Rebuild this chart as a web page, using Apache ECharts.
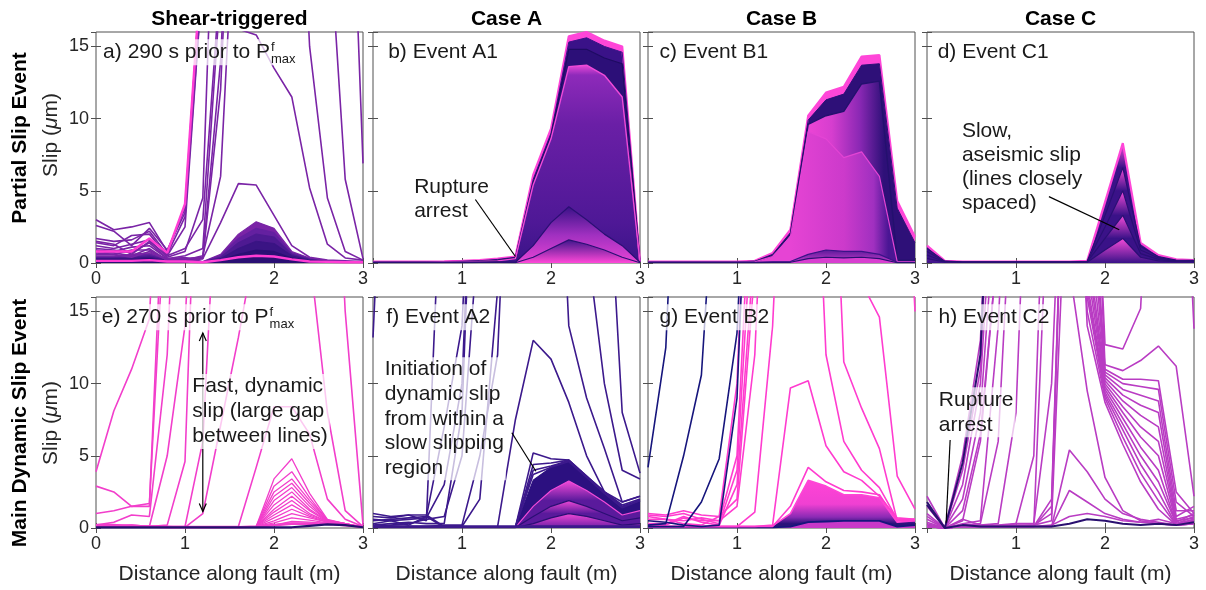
<!DOCTYPE html>
<html><head><meta charset="utf-8">
<script src="https://cdn.jsdelivr.net/npm/echarts@6/dist/echarts.min.js"></script>
<style>html,body{margin:0;padding:0;background:#fff}#c{width:1206px;height:590px}</style>
</head><body><div id="c"></div>
<script>
// ---------------- DATA ----------------
const xs = [0,0.2,0.4,0.6,0.8,1.0,1.2,1.4,1.6,1.8,2.0,2.2,2.4,2.6,2.8,3.0];
const xTicks = [0,1,2,3];
const yTicks = [0,5,10,15];
const colTitles = ['Shear-triggered','Case A','Case B','Case C'];
const rowTitles = ['Partial Slip Event','Main Dynamic Slip Event'];
const panelLabels = ['a) 290 s prior to P','b) Event A1','c) Event B1','d) Event C1','e) 270 s prior to P','f) Event A2','g) Event B2','h) Event C2'];

// a) shear-triggered partial slip
const aHump = [
 [0.5,0.5,0.6,0.7,0.3,0.4,0.1,0.6,2.0,2.85,2.4,0.8,0.35,0.15,0.1,0.1],
 [0.4,0.4,0.5,0.6,0.25,0.3,0.08,0.5,1.7,2.4,2.1,0.7,0.3,0.12,0.1,0.1],
 [0.35,0.35,0.4,0.5,0.2,0.25,0.07,0.4,1.4,2.0,1.8,0.6,0.25,0.1,0.08,0.08],
 [0.3,0.3,0.3,0.4,0.15,0.2,0.06,0.3,1.0,1.5,1.35,0.5,0.2,0.08,0.06,0.06],
 [0.2,0.2,0.2,0.3,0.1,0.15,0.05,0.2,0.6,0.9,0.8,0.35,0.15,0.06,0.05,0.05]
];
const aLines = [
 [3.0,2.3,2.5,2.8,0.8,3.8,22,40,40,40,40,40,40,40,40,6.9],
 [2.6,2.2,1.2,2.4,0.9,3.5,22,40,40,40,40,40,40,25,5.8,0.3],
 [1.7,1.5,1.6,2.2,0.6,3.2,20,40,40,40,40,40,15,4.5,0.8,0.2],
 [1.4,1.2,1.9,2.0,0.5,1.0,3.0,20,16.2,15.8,13.5,11.5,5.2,1.3,0.35,0.2],
 [1.2,1.0,1.3,1.6,0.4,0.8,4.5,40,40,40,40,40,40,40,40,40],
 [1.0,0.9,0.7,1.4,0.3,0.5,1.0,19,40,40,40,40,40,40,40,40],
 [0.9,0.8,1.1,1.2,0.3,0.3,0.4,14,40,40,40,40,40,40,40,40],
 [0.8,0.7,0.5,1.0,0.2,0.3,0.3,12,40,40,40,40,40,40,40,40],
 [0.7,0.6,0.9,0.9,0.2,0.2,0.5,6,30,40,40,40,40,40,40,40],
 [0.6,0.6,0.4,0.8,0.2,0.1,0.3,2.8,5.5,5.4,3.3,1.2,0.4,0.2,0.15,0.1],
 [1.5,1.3,0.6,1.5,0.5,2.5,20,40,40,40,40,40,40,40,40,40]
];
const aPinkHigh = [0.8,0.8,0.8,1.7,0.7,4.1,22,40,40,40,40,40,40,40,40,40];
const aPinkLow  = [0.15,0.15,0.15,0.2,0.1,0.1,0.05,0.2,0.4,0.5,0.45,0.25,0.1,0.08,0.05,0.05];

// b) Event A1
const bBands = [
 [0.1,0.1,0.1,0.1,0.12,0.15,0.2,0.3,0.45,6.1,9.3,15.7,16.0,15.4,15.0,0.1],
 [0.08,0.08,0.08,0.08,0.1,0.12,0.16,0.25,0.4,5.8,9.0,15.3,15.6,15.0,14.6,0.1],
 [0.07,0.07,0.07,0.07,0.08,0.1,0.13,0.2,0.35,5.6,8.8,14.8,14.8,14.2,13.8,0.1],
 [0.06,0.06,0.06,0.06,0.07,0.08,0.1,0.15,0.3,5.4,8.6,13.6,13.7,13.0,11.5,0.1],
 [0.04,0.04,0.04,0.04,0.05,0.06,0.07,0.08,0.05,1.2,2.8,3.9,3.0,2.0,1.2,0.05],
 [0.02,0.02,0.02,0.02,0.03,0.03,0.04,0.05,0.02,0.4,1.0,1.6,1.3,0.9,0.4,0.02]
];
// c) Event B1
const cBands = [
 [0.1,0.1,0.1,0.1,0.1,0.1,0.15,0.7,2.3,10.2,11.8,12.2,14.3,14.4,4.3,1.8],
 [0.08,0.08,0.08,0.08,0.08,0.08,0.12,0.6,2.1,9.9,11.3,11.7,13.7,13.8,3.8,1.4],
 [0.07,0.07,0.07,0.07,0.07,0.07,0.1,0.5,2.0,9.6,10.2,10.5,12.4,12.6,0.2,0.2],
 [0.06,0.06,0.06,0.06,0.06,0.06,0.08,0.45,1.8,9.1,8.6,7.3,7.7,6.0,0.1,0.1],
 [0.04,0.04,0.04,0.04,0.04,0.04,0.05,0.08,0.1,0.6,0.9,0.8,0.8,0.6,0.05,0.05],
 [0.02,0.02,0.02,0.02,0.02,0.02,0.03,0.04,0.05,0.3,0.4,0.35,0.4,0.3,0.02,0.02]
];
// d) Event C1
const dBands = [
 [1.2,0.15,0.1,0.1,0.1,0.1,0.1,0.1,0.1,0.15,4.2,8.3,1.4,0.55,0.25,0.2],
 [1.0,0.13,0.08,0.08,0.08,0.08,0.08,0.08,0.08,0.12,3.3,6.6,1.15,0.45,0.2,0.18],
 [0.8,0.11,0.07,0.07,0.07,0.07,0.07,0.07,0.07,0.1,2.5,5.0,0.9,0.35,0.16,0.15],
 [0.55,0.09,0.06,0.06,0.06,0.06,0.06,0.06,0.06,0.08,1.7,3.3,0.65,0.25,0.12,0.12],
 [0.3,0.07,0.05,0.05,0.05,0.05,0.05,0.05,0.05,0.06,0.9,1.7,0.4,0.15,0.1,0.1]
];

// e) 270 s prior
const eLines = [
 [3.9,8.1,11.0,14.5,40,40,40,40,40,40,40,40,40,40,40,40],
 [2.9,2.5,1.5,1.5,30,40,40,40,40,40,40,40,40,40,40,40],
 [1.0,1.2,1.5,1.7,25,40,40,40,40,40,40,40,40,40,40,40],
 [0.2,0.4,0.9,0.8,12,40,40,40,40,40,40,40,40,40,40,40],
 [0.1,0.1,0.2,0.1,5,14,40,40,40,40,40,40,40,40,15,0.2],
 [0.1,0.1,0.1,0.1,0.2,4.6,40,40,40,40,40,40,19,8,1.2,0.1],
 [0.1,0.1,0.1,0.1,0.1,0.05,1.0,7.1,13.2,20,40,40,40,40,40,40],
 [0.1,0.1,0.1,0.1,0.1,0.1,6,30,40,40,40,40,40,40,40,40],
 [0.2,0.2,0.2,0.1,0.1,0.1,0.1,0.1,0.1,4.2,8.4,8.4,6.5,2.0,0.6,0.1]
];
const eFan = [
 [0.05,0.05,0.05,0.05,0.05,0.05,0.05,0.05,0.05,0.1,3.4,4.8,2.4,0.6,0.3,0.05],
 [0.05,0.05,0.05,0.05,0.05,0.05,0.05,0.05,0.05,0.1,2.9,3.9,2.1,0.55,0.3,0.05],
 [0.05,0.05,0.05,0.05,0.05,0.05,0.05,0.05,0.05,0.1,2.5,3.4,1.9,0.55,0.3,0.05],
 [0.05,0.05,0.05,0.05,0.05,0.05,0.05,0.05,0.05,0.1,2.2,3.1,1.7,0.5,0.3,0.05],
 [0.05,0.05,0.05,0.05,0.05,0.05,0.05,0.05,0.05,0.1,1.9,2.8,1.5,0.5,0.3,0.05],
 [0.05,0.05,0.05,0.05,0.05,0.05,0.05,0.05,0.05,0.1,1.6,2.5,1.3,0.5,0.3,0.05],
 [0.05,0.05,0.05,0.05,0.05,0.05,0.05,0.05,0.05,0.1,1.3,2.2,1.2,0.45,0.3,0.05],
 [0.05,0.05,0.05,0.05,0.05,0.05,0.05,0.05,0.05,0.1,1.1,1.9,1.0,0.45,0.25,0.05],
 [0.05,0.05,0.05,0.05,0.05,0.05,0.05,0.05,0.05,0.1,0.9,1.6,0.9,0.45,0.25,0.05],
 [0.05,0.05,0.05,0.05,0.05,0.05,0.05,0.05,0.05,0.1,0.7,1.3,0.8,0.4,0.25,0.05],
 [0.05,0.05,0.05,0.05,0.05,0.05,0.05,0.05,0.05,0.1,0.5,1.0,0.7,0.4,0.2,0.05],
 [0.05,0.05,0.05,0.05,0.05,0.05,0.05,0.05,0.05,0.1,0.35,0.7,0.55,0.35,0.2,0.05],
 [0.05,0.05,0.05,0.05,0.05,0.05,0.05,0.05,0.05,0.1,0.2,0.45,0.4,0.3,0.2,0.05]
];
const eBase = [0.2,0.2,0.1,0.1,0.05,0.05,0.05,0.05,0.05,0.1,0.2,0.3,0.3,0.3,0.2,0.1];
const eDark = [0.05,0.05,0.05,0.05,0.05,0.05,0.05,0.05,0.05,0.05,0.05,0.05,0.15,0.25,0.2,0.05];

// f) Event A2
const fBands = [
 [0.05,0.05,0.05,0.05,0.05,0.05,0.05,0.05,0.05,3.3,4.2,4.7,3.5,2.4,1.4,1.9],
 [0.04,0.04,0.04,0.04,0.04,0.04,0.04,0.04,0.04,1.5,2.6,3.25,2.6,1.8,0.9,1.2],
 [0.03,0.03,0.03,0.03,0.03,0.03,0.03,0.03,0.03,0.8,1.5,1.9,1.5,1.0,0.5,0.7],
 [0.02,0.02,0.02,0.02,0.02,0.02,0.02,0.02,0.02,0.3,0.7,1.0,0.8,0.5,0.2,0.3]
];
const fLines = [
 [13.2,40,40,40,40,40,40,40,40,40,40,40,40,40,40,40],
 [1.0,0.8,0.9,0.5,30,40,40,40,40,40,40,14,9,5.5,1.8,2.2],
 [0.5,0.6,0.7,0.8,7,14,40,40,40,40,40,40,20,10,4.0,3.4],
 [0.2,0.3,0.4,0.3,0.3,8,40,40,40,40,40,40,40,30,8,3.8],
 [0.1,0.1,0.1,0.1,0.2,0.2,5,12,40,40,40,40,40,40,40,40],
 [0.05,0.05,0.05,0.05,0.05,0.05,0.05,0.1,7.5,13.0,11.7,8.7,5.0,2.5,1.8,2.2],
 [0.05,0.05,0.05,0.05,0.05,0.05,0.05,0.05,0.05,5.2,4.8,4.7,3.6,2.5,1.6,2.0],
 [0.8,0.7,0.9,0.9,0.1,0.1,0.05,0.05,0.05,0.05,0.05,0.05,0.05,0.05,0.05,0.05],
 [0.3,0.5,0.2,0.8,0.05,0.05,0.05,0.05,0.05,0.05,0.05,0.05,0.05,0.05,0.05,0.05],
 [0.6,0.5,0.6,0.7,3,10,40,40,40,40,40,40,40,40,40,40],
 [0.1,0.2,0.3,0.6,0.8,5,22,40,40,40,40,40,40,40,40,40],
 [0.1,0.1,0.1,0.1,0.1,0.1,2,16.5,40,40,40,40,40,40,40,40],
 [0.05,0.05,0.05,0.05,0.05,0.05,0.05,0.05,0.05,4.4,4.5,4.7,3.6,2.5,1.5,1.9],
 [0.05,0.05,0.05,0.05,0.05,0.05,0.05,0.05,0.05,4.0,4.3,4.65,3.55,2.45,1.45,1.9],
 [0.05,0.05,0.05,0.05,0.05,0.05,0.05,0.05,0.05,3.7,4.2,4.6,3.5,2.4,1.4,1.9]
];
const fBase = [0.1,0.1,0.1,0.1,0.1,0.1,0.1,0.1,0.1,0.1,0.1,0.1,0.1,0.1,0.1,0.1];

// g) Event B2
const gBands = [
 [0.1,0.1,0.1,0.1,0.1,0.1,0.1,0.15,1.0,3.3,2.9,2.3,2.3,2.1,0.4,0.5],
 [0.05,0.05,0.05,0.05,0.05,0.05,0.05,0.05,0.1,0.4,0.45,0.5,0.5,0.5,0.1,0.2]
];
const gNavy = [
 [4.2,12.5,40,40,40,40,40,40,40,40,40,40,40,40,40,40],
 [0.2,0.3,5.0,10.6,30,40,40,40,40,40,40,40,40,40,40,40],
 [0.1,0.1,0.1,1.8,4.8,13.5,40,40,40,40,40,40,40,40,40,40],
 [0.5,0.4,0.2,0.1,0.2,9,40,40,40,40,40,40,40,40,40,40]
];
const gPink = [
 [1.0,0.9,1.2,0.9,0.8,10,40,40,40,40,12,6.0,4.0,2.8,0.6,0.6],
 [0.8,0.6,0.5,0.7,0.5,5,30,40,40,40,40,11.5,8.3,5.5,0.5,0.5],
 [0.3,0.3,0.8,0.4,0.2,3,20,40,40,40,40,40,17,14.6,3.6,1.3],
 [0.1,0.1,0.1,0.1,0.1,0.1,1.1,14,40,40,40,40,40,40,40,15],
 [0.1,0.1,0.1,0.1,0.1,0.1,0.1,0.2,9.7,10.2,5.7,3.9,3.3,2.2,0.7,0.6],
 [0.1,0.1,0.1,0.1,0.1,0.1,0.1,0.1,1.5,4.2,3.2,2.6,2.5,2.3,0.5,0.6],
 [0.6,0.6,0.3,0.2,0.8,2,18,40,40,40,40,40,40,40,40,40],
 [0.2,0.2,0.7,0.5,0.5,1.5,12,40,40,40,40,40,40,40,40,40],
 [0.9,0.8,1.0,0.6,0.3,4,25,40,40,40,40,40,40,40,40,40]
];

// h) Event C2
const hLines = [
 [2.2,0,5,13,40,40,40,40,40,40,12.7,12.4,15.2,40,40,13.8],
 [1.5,0,4,11,40,40,40,40,40,40,11.3,10.9,11.6,12.6,11.2,2.2],
 [1.0,0,3,10,30,40,40,40,40,30,11.0,10.3,10.3,10.2,2.5,1.0],
 [0.6,0,2,8,25,40,40,40,40,28,10.8,10.0,9.8,9.6,1.8,0.8],
 [0.4,0,1.2,6.5,20,40,40,40,40,25,10.6,9.6,9.2,8.8,1.2,1.2],
 [0.3,0,0.5,6,20,40,40,40,40,22,10.4,9.2,8.5,8.0,0.8,1.5],
 [0.2,0,0.3,0.5,14,40,40,40,40,20,10.2,8.8,7.8,7.0,0.6,0.9],
 [0.1,0,0.2,0.3,6,30,40,40,40,19,10.0,8.4,7.0,6.0,0.5,0.7],
 [0.1,0,0.1,0.2,0.3,8,40,40,40,18,9.8,8.0,6.3,5.0,0.4,1.0],
 [0.1,0,0.1,0.1,0.2,0.3,0.3,10,40,17,9.6,7.6,5.6,4.0,0.3,0.6],
 [0.1,0,0.1,0.1,0.1,0.2,0.2,1.0,40,16.5,9.4,7.2,5.0,3.2,0.3,0.5],
 [0.1,0,0.1,0.1,0.1,0.1,0.2,0.5,30,16,9.2,6.8,4.4,2.5,0.2,0.4],
 [0.1,0,0.1,0.1,0.1,0.1,0.1,2.0,40,15,9.0,6.3,3.8,1.9,0.2,0.6],
 [0.1,0,0.1,0.1,0.1,0.1,0.1,1.5,40,14,8.7,5.8,3.2,1.3,0.2,0.5],
 [0.1,0,0.1,0.1,0.1,0.1,0.1,30,18,9.5,3.5,1.2,0.5,0.3,0.2,0.3],
 [0.1,0,0.1,0.1,0.1,0.1,0.1,0.1,5.4,3.9,2.0,1.0,0.6,0.4,0.2,0.3],
 [0.1,0,0.1,0.1,0.1,0.1,0.1,0.1,2.6,1.8,1.0,0.6,0.4,0.3,0.2,0.3],
 [0.8,0,0.6,0.2,0.1,0.1,0.1,0.2,0.8,1.0,0.8,0.5,0.4,0.6,0.3,0.8],
 [0.1,0,0.1,0.1,0.1,0.3,5,40,40,40,40,40,40,40,40,40]
];
const hNavy = [
 [1.8,0,4.5,12,40,40,40,40,40,40,40,40,40,40,40,40],
 [1.6,0,0.2,0.1,0.1,0.1,0.1,0.1,0.3,0.6,0.5,0.3,0.2,0.3,0.2,0.4]
];

// --------------- LAYOUT / STYLE ---------------
const FONT = '"Liberation Sans", Arial, sans-serif';
const GL = [96,373,648,927], GW = 267, GT = [32,297], GH = 231;
const YMAX = 16;
const FRAME = '#505050', TXT = '#262626';
const PURPLE = '#7a24a6', PINK = '#ff3dd4', NAVY = '#24106e';
const EPINK = '#f23ecb', FNAVY = '#3c198c', GNAVY = '#16157c', ORCHID = '#b93cc3';

const py = (g, v) => GT[g < 4 ? 0 : 1] + (YMAX - v) / YMAX * GH;
const px = (g, x) => GL[g % 4] + x / 3 * GW;
const stops = s => s.map(t => ({offset: t[0], color: t[1]}));
const vgrad = (g, v1, v2, s) => ({type:'linear', global:true, x:0, y:py(g,v1), x2:0, y2:py(g,v2), colorStops:stops(s)});
const hgrad = (g, x1, x2, s) => ({type:'linear', global:true, x:px(g,x1), y:0, x2:px(g,x2), y2:0, colorStops:stops(s)});

const grids = [], xAxes = [], yAxes = [];
for (let g = 0; g < 8; g++) {
  const r = g < 4 ? 0 : 1, c = g % 4;
  grids.push({left:GL[c], top:GT[r], width:GW, height:GH, show:true, borderColor:FRAME, borderWidth:1, backgroundColor:'#fff', containLabel:false});
  const tick = {show:true, inside:true, length:5, lineStyle:{color:FRAME, width:1}};
  xAxes.push({gridIndex:g, type:'value', min:xTicks[0], max:xTicks[xTicks.length-1], interval:1, position:'bottom',
    axisLine:{show:false}, axisTick:tick, splitLine:{show:false},
    axisLabel:{show:true, fontSize:18, color:TXT, margin:7, fontFamily:FONT, showMinLabel:true, showMaxLabel:true,
      formatter: v => (c > 0 && v === 0) ? '' : String(v)}});
  xAxes.push({gridIndex:g, type:'value', min:0, max:3, interval:1, position:'top',
    axisLine:{show:false}, axisTick:tick, splitLine:{show:false}, axisLabel:{show:false}});
  yAxes.push({gridIndex:g, type:'value', min:0, max:YMAX, interval:5, position:'left',
    axisLine:{show:false}, axisTick:tick, splitLine:{show:false},
    axisLabel:{show:c === 0, fontSize:18, color:TXT, margin:7, fontFamily:FONT, showMaxLabel:false,
      formatter: v => yTicks.includes(v) ? String(v) : ''}});
  yAxes.push({gridIndex:g, type:'value', min:0, max:YMAX, interval:5, position:'right',
    axisLine:{show:false}, axisTick:tick, splitLine:{show:false}, axisLabel:{show:false}});
}

const S = [];
function line(g, vals, color, width, z) {
  return {type:'line', xAxisIndex:2*g, yAxisIndex:2*g, data:xs.map((x,i)=>[x, vals[i]]),
    symbol:'none', showSymbol:false, silent:true, animation:false, clip:true, z:z||3,
    lineStyle:{color:color, width:width||1.6}};
}
function area(g, vals, fill, lc, lw) {
  const s = line(g, vals, lc, lw || 1, 2);
  s.areaStyle = {color:fill, opacity:1};
  return s;
}

// a
const aHumpCol = ['#7a24a6','#6420a0','#4e1a92','#3a1484','#2a0f74'];
aHump.forEach((v,i) => S.push(area(0, v, aHumpCol[i], aHumpCol[i], 1.2)));
aLines.forEach(v => S.push(line(0, v, PURPLE, 1.6)));
S.push(line(0, aPinkHigh, PINK, 2.4));
S.push(line(0, aPinkLow, PINK, 2.4));

// b
const bFill = [
  '#ff46d8', '#3a1288', '#2c0f78',
  vgrad(1, 13.7, 0, [[0,'#e848d8'],[0.05,'#8e2aba'],[0.3,'#6a1fa6'],[0.8,'#4e1896'],[1,'#3a1488']]),
  vgrad(1, 3.9, 0, [[0,'#3a1288'],[0.5,'#a030c0'],[1,'#e644d4']]),
  vgrad(1, 1.6, 0, [[0,'#40168c'],[1,'#ff48d8']])
];
const bLine = ['#ff46d8','#3a1288','#1e0b62','#f04ad8','#2a0f74','#2a0f74'];
const bLW = [2.2,1,1.2,1.4,1.2,1.2];
bBands.forEach((v,i) => S.push(area(1, v, bFill[i], bLine[i], bLW[i])));

// c
const cFill = [
  '#ff46d8', '#2e1078',
  hgrad(2, 1.75, 2.65, [[0,'#f046d6'],[0.35,'#d63ecf'],[0.7,'#8a28b4'],[1,'#2e1078']]),
  hgrad(2, 1.6, 2.7, [[0,'#e644d4'],[0.55,'#cc3acb'],[0.85,'#a030c0'],[1,'#4a1694']]),
  vgrad(2, 0.9, 0, [[0,'#5a1a9a'],[1,'#c83ccc']]),
  '#d83ed0'
];
const cLine = ['#ff46d8','#2e1078','#24106e','#e444d4','#3a1288','#2a0f74'];
const cLW = [2.2,1,1.4,1.2,1.2,1.2];
cBands.forEach((v,i) => S.push(area(2, v, cFill[i], cLine[i], cLW[i])));

// d
const dPeaks = dBands.map(b => Math.max(...b));
dBands.forEach((v,i) => {
  const nxt = i + 1 < dPeaks.length ? dPeaks[i+1] : 0;
  S.push(area(3, v, vgrad(3, dPeaks[i], nxt, [[0,'#f44ad8'],[1,'#3a1288']]), i === 0 ? '#ff46d8' : '#2a0f74', i === 0 ? 2.2 : 1.2));
});

// e
S.push(line(4, eBase, EPINK, 2.6));
eFan.forEach(v => S.push(line(4, v, EPINK, 1.3)));
eLines.forEach(v => S.push(line(4, v, EPINK, 1.6)));
S.push(line(4, eDark, NAVY, 2.2));

// f
const fFill = [
  '#2c1080',
  vgrad(5, 3.25, 1.9, [[0,'#f24ad8'],[1,'#5a1a9c']]),
  vgrad(5, 1.9, 1.0, [[0,'#f048d6'],[1,'#5a1a9c']]),
  vgrad(5, 1.0, 0, [[0,'#f048d6'],[1,'#6a1ea4']])
];
const fLC = ['#2c1080','#f24ad8','#2a0f74','#2a0f74'];
fBands.forEach((v,i) => S.push(area(5, v, fFill[i], fLC[i], 1.2)));
fLines.forEach(v => S.push(line(5, v, FNAVY, 1.6)));
S.push(line(5, fBase, FNAVY, 2.6));

// g
S.push(area(6, gBands[0], vgrad(6, 3.3, 0.3, [[0,'#ff44d6'],[0.55,'#f040d2'],[0.85,'#8a2ab4'],[1,'#2a127a']]), '#ff44d6', 1.6));
S.push(area(6, gBands[1], '#c838c8', GNAVY, 1.8));
gPink.forEach(v => S.push(line(6, v, '#ff3ccf', 1.6)));
gNavy.forEach(v => S.push(line(6, v, GNAVY, 1.6)));

// h
hLines.forEach(v => S.push(line(7, v, ORCHID, 1.6)));
hNavy.forEach(v => S.push(line(7, v, '#2a1070', 2)));

const chart = echarts.init(document.getElementById('c'), null, {renderer:'canvas', width:1206, height:590});
chart.setOption({animation:false, textStyle:{fontFamily:FONT}, grid:grids, xAxis:xAxes, yAxis:yAxes, series:S});

// --------------- TEXT / ANNOTATIONS ---------------
const P = (g, x, v) => chart.convertToPixel({xAxisIndex:2*g, yAxisIndex:2*g}, [x, v]);
const ctx = document.createElement('canvas').getContext('2d');
const F21 = '21px ' + FONT;
ctx.font = F21;
const G = [];
const BG = 'rgba(255,255,255,0.72)';

colTitles.forEach((t,c) => G.push({type:'text', x:GL[c] + GW/2, y:19, z:100,
  style:{text:t, font:'bold 21px ' + FONT, fill:'#000', align:'center', verticalAlign:'middle'}}));
const rowLabY = [138, 423], slipY = [135, 423];
rowTitles.forEach((t,r) => {
  G.push({type:'text', x:20, y:rowLabY[r], rotation:Math.PI/2, z:100,
    style:{text:t, font:'bold 21px ' + FONT, fill:'#000', align:'center', verticalAlign:'middle'}});
  G.push({type:'text', x:51, y:slipY[r], rotation:Math.PI/2, z:100,
    style:{text:'{n|Slip (}{i|μ}{n|m)}', align:'center', verticalAlign:'middle',
      rich:{n:{fontSize:21, fontFamily:FONT, fill:TXT}, i:{fontSize:21, fontFamily:FONT, fontStyle:'italic', fill:TXT}}}});
});
for (let c = 0; c < 4; c++) {
  G.push({type:'text', x:GL[c] + GW/2, y:574, z:100,
    style:{text:'Distance along fault (m)', font:F21, fill:TXT, align:'center', verticalAlign:'middle'}});
}

// panel labels
const labelX = [0.08,0.17,0.13,0.12,0.064,0.15,0.13,0.13];
panelLabels.forEach((t,g) => {
  const [x, y] = P(g, labelX[g], 14.6);
  const w = ctx.measureText(t).width;
  const hasSup = t.endsWith('to P');
  const extra = hasSup ? 28 : 0;
  G.push({type:'rect', z:99, shape:{x:x-2, y:y-13, width:w+4+extra, height:26}, style:{fill:BG}});
  G.push({type:'text', z:100, x:x, y:y, style:{text:t, font:F21, fill:'#1a1a1a', align:'left', verticalAlign:'middle'}});
  if (hasSup) {
    G.push({type:'text', z:100, x:x+w+1, y:y-5, style:{text:'f', font:'13px ' + FONT, fill:'#1a1a1a', align:'left', verticalAlign:'middle'}});
    G.push({type:'text', z:100, x:x+w+1, y:y+7, style:{text:'max', font:'13px ' + FONT, fill:'#1a1a1a', align:'left', verticalAlign:'middle'}});
  }
});

// annotations
const annoText = [
  {g:1, text:'Rupture\narrest', at:[0.44,6.1], lh:24},
  {g:3, text:'Slow,\naseismic slip\n(lines closely\nspaced)', at:[0.37,9.96], lh:24},
  {g:4, text:'Fast, dynamic\nslip (large gap\nbetween lines)', at:[1.06,10.67], lh:25},
  {g:5, text:'Initiation of\ndynamic slip\nfrom within a\nslow slipping\nregion', at:[0.11,11.83], lh:24.6},
  {g:7, text:'Rupture\narrest', at:[0.11,9.75], lh:25}
];
const leaders = [
  {g:1, from:[1.15,4.4], to:[1.6,0.45]},
  {g:3, from:[1.37,4.6], to:[2.16,2.3]},
  {g:5, from:[1.56,6.6], to:[1.83,3.93]},
  {g:7, from:[0.26,6.1], to:[0.215,0.37]}
];
const arrowE = {g:4, from:[1.2,13.5], to:[1.2,1.15]};

leaders.forEach(L => {
  const a = P(L.g, L.from[0], L.from[1]), b = P(L.g, L.to[0], L.to[1]);
  G.push({type:'line', z:101, shape:{x1:a[0], y1:a[1], x2:b[0], y2:b[1]}, style:{stroke:'#000', lineWidth:1.2}});
});
{
  const a = P(arrowE.g, arrowE.from[0], arrowE.from[1]), b = P(arrowE.g, arrowE.to[0], arrowE.to[1]);
  G.push({type:'line', z:98, shape:{x1:a[0], y1:a[1], x2:b[0], y2:b[1]}, style:{stroke:'#000', lineWidth:1.2}});
  G.push({type:'polyline', z:98, shape:{points:[[a[0]-3.5,a[1]+8],[a[0],a[1]],[a[0]+3.5,a[1]+8]]}, style:{stroke:'#000', lineWidth:1.2, fill:null}});
  G.push({type:'polyline', z:98, shape:{points:[[b[0]-3.5,b[1]-8],[b[0],b[1]],[b[0]+3.5,b[1]-8]]}, style:{stroke:'#000', lineWidth:1.2, fill:null}});
}
annoText.forEach(A => {
  const p = P(A.g, A.at[0], A.at[1]);
  G.push({type:'text', z:100, x:p[0], y:p[1], style:{text:A.text, font:F21, lineHeight:A.lh, fill:'#1a1a1a',
    align:'left', verticalAlign:'top', backgroundColor:BG, padding:[0,2,0,2]}});
});

chart.setOption({graphic:{elements:G}});
</script>
</body></html>
